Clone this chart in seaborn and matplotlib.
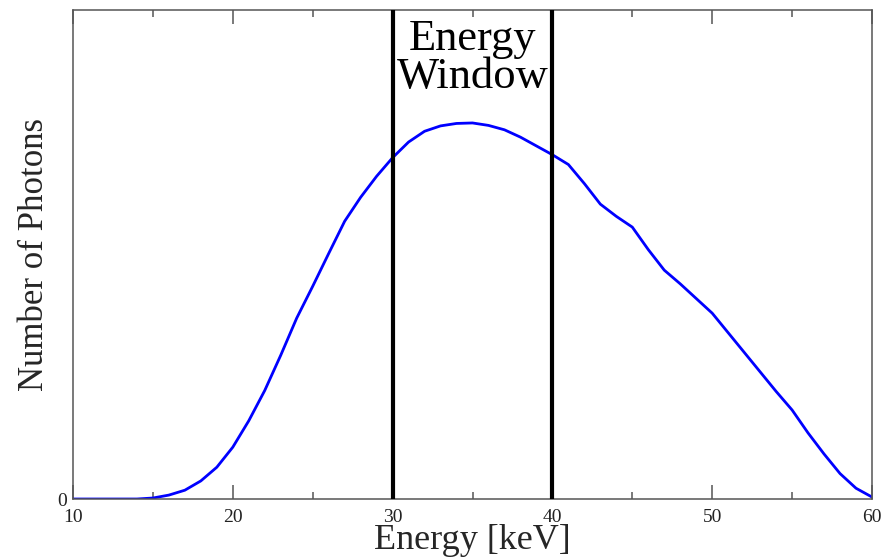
import matplotlib
matplotlib.use("Agg")
import matplotlib.pyplot as plt
import seaborn as sns
import pandas as pd
from matplotlib.ticker import MultipleLocator

energy_kev = [10, 11, 12, 13, 14, 15, 16, 17, 18, 19, 20, 21, 22, 23, 24, 25,
              26, 27, 28, 29, 30, 31, 32, 33, 34, 35, 36, 37, 38, 39, 40, 41,
              42, 43, 44, 45, 46, 47, 48, 49, 50, 51, 52, 53, 54, 55, 56, 57,
              58, 59, 60]
photons = [0, 0, 0, 0, 0, 0.002, 0.008, 0.018, 0.037, 0.065, 0.106, 0.16,
           0.222, 0.294, 0.37, 0.435, 0.502, 0.568, 0.617, 0.66, 0.698, 0.73,
           0.752, 0.763, 0.768, 0.769, 0.764, 0.755, 0.74, 0.722, 0.704, 0.684,
           0.645, 0.603, 0.578, 0.556, 0.51, 0.468, 0.44, 0.41, 0.38, 0.34,
           0.3, 0.26, 0.22, 0.182, 0.135, 0.092, 0.052, 0.022, 0.004]
window_edges = [30, 40]
window_label = "Energy\nWindow"
x_ticks = [10, 20, 30, 40, 50, 60]
x_label = "Energy [keV]"
y_label = "Number of Photons"

sns.set_style("ticks")
plt.rcParams['font.family'] = ['Liberation Serif', 'DejaVu Serif']
plt.rcParams['mathtext.fontset'] = 'stix'

df = pd.DataFrame({"energy": energy_kev, "photons": photons})

fig = plt.figure(figsize=(8.92, 5.6), dpi=100)
ax = fig.add_axes([73 / 892, 61 / 560, 799 / 892, 489 / 560])

sns.lineplot(data=df, x="energy", y="photons", ax=ax, color="#0000ff",
             linewidth=2.0)
for e in window_edges:
    ax.axvline(e, color="black", linewidth=3.0, zorder=3)

ax.text(sum(window_edges) / 2, 0.902, window_label, ha="center", va="center",
        fontsize=32, color="black", linespacing=0.95)

ax.set_xlim(10, 60)
ax.set_ylim(0, 1)
ax.set_xticks(x_ticks)
ax.xaxis.set_minor_locator(MultipleLocator(5))
ax.set_yticks([0])
ax.set_yticklabels(["0"])

ax.tick_params(axis="x", which="major", direction="in", length=10, width=1.1,
               color="#555555", top=True, labelsize=14, labelcolor="#222222",
               pad=7)
ax.tick_params(axis="x", which="minor", direction="in", length=5, width=1.1,
               color="#555555", top=True)
ax.tick_params(axis="y", which="major", length=0, labelsize=14,
               labelcolor="#222222", pad=4)

for s in ax.spines.values():
    s.set_visible(True)
    s.set_color("#555555")
    s.set_linewidth(1.1)

ax.set_xlabel(x_label, fontsize=26, labelpad=-1)
ax.set_ylabel(y_label, fontsize=25, labelpad=5)

fig.savefig("out.png", dpi=100)
